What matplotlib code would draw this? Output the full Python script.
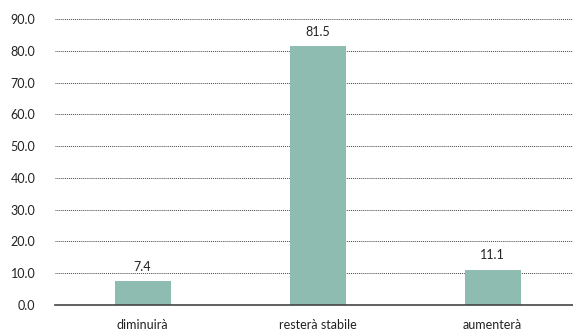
import matplotlib
matplotlib.use("Agg")
import matplotlib.pyplot as plt

categories = ["diminuirà", "resterà stabile", "aumenterà"]
values = [7.4, 81.5, 11.1]
yticks = [0, 10, 20, 30, 40, 50, 60, 70, 80, 90]

plt.rcParams['font.family'] = ['Lato', 'DejaVu Sans']

fig = plt.figure(figsize=(5.73, 3.31), dpi=100)
ax = fig.add_axes([55/573, 26/331, (573-55)/573, (305-19)/331])

x = list(range(len(categories)))
bars = ax.bar(x, values, width=0.32, color="#8FBCB0", zorder=3)
for xi, v in zip(x, values):
    ax.text(xi, v + 2.6, f"{v:.1f}", ha="center", va="bottom", fontsize=9, color="#222222")

ax.set_xlim(-0.5, 2.46)
ax.set_ylim(0, 90)
ax.set_yticks(yticks)
ax.set_yticklabels([f"{t:.1f}" for t in yticks], fontsize=9, color="#222222")
ax.set_xticks(x)
ax.set_xticklabels(categories, fontsize=9, color="#222222")
ax.tick_params(axis="y", length=0, pad=14)
ax.tick_params(axis="x", length=0, pad=10)
ax.yaxis.grid(True, linestyle=(0, (1, 1)), color="#444444", linewidth=0.7, zorder=0)
for s in ["top", "right", "left"]:
    ax.spines[s].set_visible(False)
ax.spines["bottom"].set_color("#444444")
ax.spines["bottom"].set_linewidth(1.2)
ax.spines["bottom"].set_zorder(4)

fig.savefig("out.png", dpi=100)
